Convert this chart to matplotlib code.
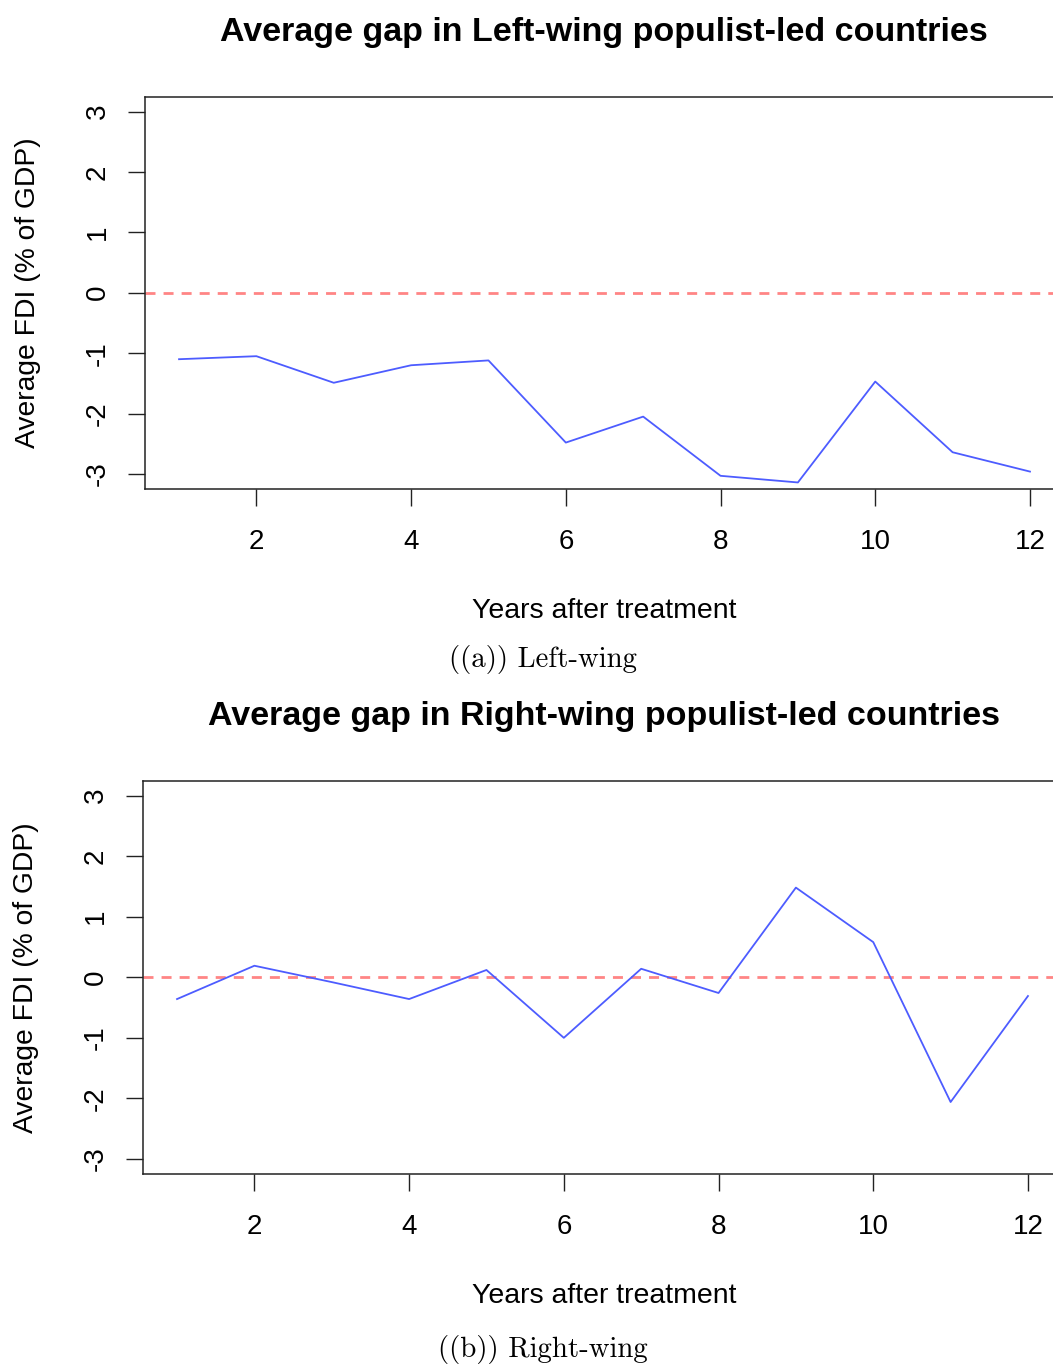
import matplotlib
matplotlib.use("Agg")
import matplotlib.pyplot as plt

years = list(range(1, 13))
left_gap = [-1.10, -1.05, -1.49, -1.20, -1.12, -2.48, -2.05, -3.03, -3.14, -1.47, -2.64, -2.96]
right_gap = [-0.36, 0.19, -0.08, -0.36, 0.12, -1.00, 0.14, -0.26, 1.48, 0.58, -2.06, -0.31]
x_ticks = [2, 4, 6, 8, 10, 12]
y_ticks = [-3, -2, -1, 0, 1, 2, 3]
titles = ["Average gap in Left-wing populist-led countries",
          "Average gap in Right-wing populist-led countries"]
captions = ["((a)) Left-wing", "((b)) Right-wing"]
xlabel = "Years after treatment"
ylabel = "Average FDI (% of GDP)"

W, H = 1053, 1364
fig = plt.figure(figsize=(W / 100, H / 100), dpi=100)
sans = "Liberation Sans"

panels = [
    dict(data=left_gap, left=145, top=97, bottom=488.5, title_y=32, xlab_y=611, ylab_x=28, cap_y=660),
    dict(data=right_gap, left=143, top=781, bottom=1173.5, title_y=716, xlab_y=1296, ylab_x=26, cap_y=1350),
]

for p, title, cap in zip(panels, titles, captions):
    width = 919
    ax = fig.add_axes([p["left"] / W, 1 - p["bottom"] / H, width / W, (p["bottom"] - p["top"]) / H])
    ax.plot(years, p["data"], color="#4d5cff", lw=1.3, zorder=3)
    ax.axhline(0, color="#ff8585", lw=2.0, dashes=(3.6, 2.9), zorder=2)
    ax.set_xlim(0.56, 12.44)
    ax.set_ylim(-3.24, 3.24)
    ax.set_xticks(x_ticks)
    ax.set_yticks(y_ticks)
    ax.set_yticklabels([str(v) if v >= 0 else "-" + str(-v) for v in y_ticks],
                       rotation=90, va="center", fontfamily=sans, fontsize=20)
    ax.set_xticklabels([str(v) for v in x_ticks], fontfamily=sans, fontsize=20)
    ax.tick_params(axis="both", direction="out", length=12.5, width=1.0, color="#222222")
    ax.tick_params(axis="x", pad=17)
    ax.tick_params(axis="y", pad=12)
    for s in ax.spines.values():
        s.set_linewidth(1.1)
        s.set_color("#222222")
    fig.text(604 / W, 1 - p["title_y"] / H, title, ha="center", va="center",
             fontfamily=sans, fontweight="bold", fontsize=24.5)
    fig.text(604 / W, 1 - p["xlab_y"] / H, xlabel, ha="center", va="center",
             fontfamily=sans, fontsize=20.5)
    fig.text(p["ylab_x"] / W, 1 - ((p["top"] + p["bottom"]) / 2) / H, ylabel, ha="center", va="center",
             rotation=90, fontfamily=sans, fontsize=20.3)
    fig.text(543 / W, 1 - p["cap_y"] / H, cap, ha="center", va="center",
             fontfamily=["cmr10", "DejaVu Serif"], fontsize=20.8)

fig.savefig("out.png", dpi=100)
